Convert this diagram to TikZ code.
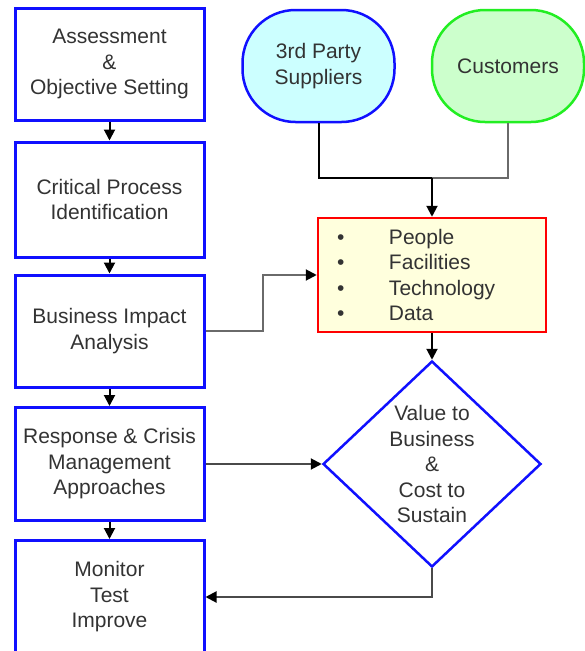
\documentclass[tikz,border=0pt]{standalone}
\usepackage{fontspec}
\setmainfont{Liberation Sans}
\usetikzlibrary{arrows.meta,shapes.geometric}
\definecolor{boxblue}{HTML}{1010FF}
\definecolor{suppfill}{HTML}{CCFFFF}
\definecolor{custfill}{HTML}{CCFFCC}
\definecolor{custline}{HTML}{22EE22}
\definecolor{resfill}{HTML}{FFFFDD}
\definecolor{inkgray}{HTML}{333333}
\definecolor{wiregray}{HTML}{6A6A6A}
\tikzset{
  txt/.style={text=inkgray, font=\fontsize{21}{25.5}\selectfont, align=center, inner sep=0pt},
  stepbox/.style={txt, draw=boxblue, line width=3pt, fill=white, minimum width=189pt},
  source/.style={txt, line width=2.5pt, rounded corners=53pt, minimum width=152pt, minimum height=112pt},
  wire/.style={line width=2pt, black},
  arrowwire/.style={wire, -{Triangle[length=11pt,width=11pt,color=black]}},
}
\begin{document}
\begin{tikzpicture}[x=1pt,y=-1pt]
\path[use as bounding box, clip] (0,0) rectangle (585,651);
\fill[white] (0,0) rectangle (585,651);

% process steps on the left
\node[stepbox, minimum height=112pt] (assess) at (109.5,64) {Assessment\\\&\\Objective Setting};
\node[stepbox, minimum height=115pt] (crit) at (109.5,199.5) {Critical Process\\Identification};
\node[stepbox, minimum height=112pt] (bia) at (109.5,331) {Business Impact\\Analysis};
\node[stepbox, minimum height=113pt] (resp) at (109.5,464) {Response \& Crisis\\Management\\Approaches};
\node[stepbox, minimum height=113pt] (mon) at (109.5,597) {Monitor\\Test\\Improve};

% external sources
\node[source, draw=boxblue, fill=suppfill] (supp) at (318.5,66) {3rd Party\\Suppliers};
\node[source, draw=custline, fill=custfill] (cust) at (508,66) {Customers};

% resources box
\node[txt, draw=red, line width=2.5pt, fill=resfill, minimum width=228pt, minimum height=114pt,
      text width=192pt, align=left] (res) at (432,275)
  {\makebox[53pt][l]{\hspace{1pt}\textbullet}People\\
   \makebox[53pt][l]{\hspace{1pt}\textbullet}Facilities\\
   \makebox[53pt][l]{\hspace{1pt}\textbullet}Technology\\
   \makebox[53pt][l]{\hspace{1pt}\textbullet}Data};

% decision diamond
\node[txt, diamond, draw=boxblue, line width=2.5pt, fill=white, minimum width=218pt, minimum height=206pt]
  (val) at (432,464) {Value to\\Business\\\&\\Cost to\\Sustain};

% connectors
\draw[arrowwire] (assess.south) -- (crit.north);
\draw[arrowwire] (crit.south) -- (bia.north);
\draw[arrowwire] (bia.south) -- (resp.north);
\draw[arrowwire] (resp.south) -- (mon.north);

\coordinate (join) at (432,178);
\draw[wire] (supp.south) -- (supp.south |- join) -- (join);
\draw[wire, wiregray] (cust.south) -- (cust.south |- join) -- (join);
\draw[arrowwire] (join) -- (res.north);

\draw[arrowwire, draw=wiregray] (bia.east) -- ++(57,0) |- (res.west);
\draw[arrowwire] (res.south) -- (val.north);
\draw[arrowwire, draw=wiregray!70!black] (resp.east) -- (resp.east -| val.west);
\draw[arrowwire, draw=wiregray!70!black] (val.south) |- (mon.east);
\end{tikzpicture}
\end{document}
